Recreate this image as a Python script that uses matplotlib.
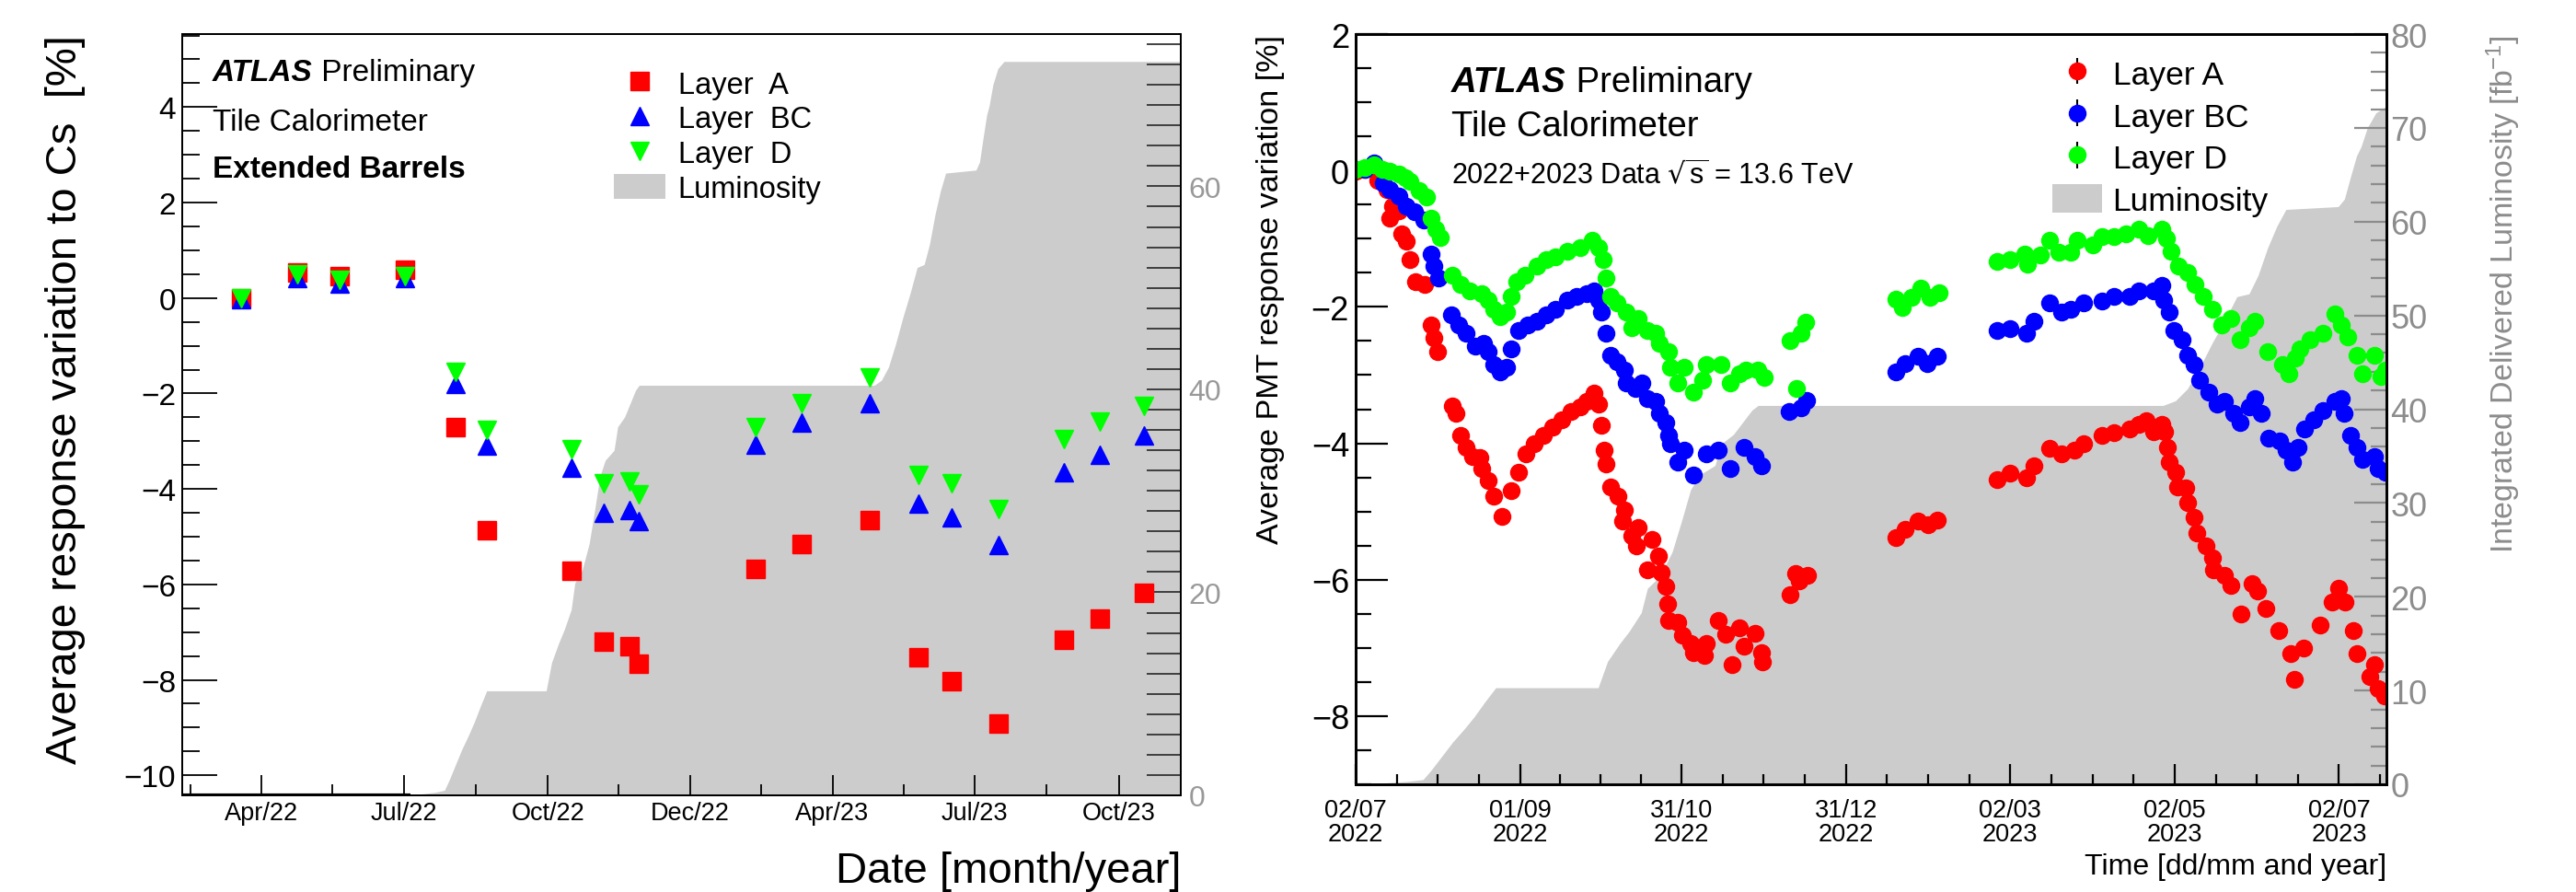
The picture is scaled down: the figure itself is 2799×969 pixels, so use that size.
import matplotlib
matplotlib.use("Agg")
import matplotlib.pyplot as plt
import numpy as np
import pandas as pd
from matplotlib.patches import Patch
from matplotlib.container import ErrorbarContainer
from matplotlib.legend_handler import HandlerErrorbar
from matplotlib.ticker import MultipleLocator, FixedLocator

plt.rcParams["font.family"] = ["Liberation Sans", "DejaVu Sans"]
plt.rcParams["mathtext.default"] = "regular"

DAY0 = pd.Timestamp("2022-01-01")

# ---------------- left panel: Cs scans, extended barrels ----------------
cs_dates = ["2022-03-19", "2022-04-24", "2022-05-21", "2022-07-02", "2022-08-03",
            "2022-08-23", "2022-10-16", "2022-11-06", "2022-11-22", "2022-11-28",
            "2023-02-11", "2023-03-12", "2023-04-25", "2023-05-26", "2023-06-16",
            "2023-07-16", "2023-08-27", "2023-09-19", "2023-10-17"]
cs_layer_a = [0.0, 0.54, 0.45, 0.60, -2.71, -4.86, -5.72, -7.20, -7.29, -7.66,
              -5.68, -5.16, -4.65, -7.52, -8.02, -8.91, -7.16, -6.71, -6.17]
cs_layer_bc = [-0.03, 0.42, 0.30, 0.42, -1.79, -3.10, -3.56, -4.50, -4.44, -4.68,
               -3.07, -2.60, -2.21, -4.30, -4.60, -5.17, -3.66, -3.28, -2.88]
cs_layer_d = [0.0, 0.50, 0.38, 0.45, -1.55, -2.77, -3.16, -3.89, -3.84, -4.12,
              -2.71, -2.20, -1.67, -3.70, -3.88, -4.42, -2.96, -2.59, -2.26]

left_tick_dates = ["2022-04-01", "2022-07-01", "2022-10-01", "2022-12-31",
                   "2023-04-01", "2023-07-01", "2023-10-01"]

# ---------------- right panel: PMT response (days since 2022-01-01) ----------------
days_a = [182.1, 185.5, 190.1, 193.5, 194.6, 195.8, 198.1, 199.2, 200.9, 202.0,
          204.3, 207.7, 210.0, 211.2, 212.3, 218.0, 219.1, 220.8, 223.1, 225.4,
          228.2, 228.8, 231.1, 233.4, 236.2, 239.6, 242.5, 245.3, 248.2, 251.6,
          255.0, 258.4, 261.9, 265.3, 267.6, 270.4, 272.1, 273.2, 274.4, 275.0,
          276.7, 279.5, 281.2, 281.8, 284.6, 286.3, 286.9, 290.3, 292.0, 294.3,
          295.5, 297.2, 297.7, 298.3, 301.7, 303.4, 306.3, 307.4, 311.4, 312.0,
          316.5, 319.4, 321.7, 324.5, 326.2, 330.2, 332.5, 333.0,
          343.3, 345.3, 346.7, 349.6,
          382.6, 386.0, 390.6, 394.6, 398.0,
          420.2, 424.8, 431.0, 433.9, 439.6, 444.1, 448.7, 452.1, 459.0, 463.5,
          469.2, 472.6, 475.5, 478.3, 481.2, 482.3, 483.4, 484.0, 486.3, 487.0,
          490.3, 490.8, 493.1, 494.3, 497.7, 500.0, 500.5, 504.5, 506.8, 510.5,
          514.8, 516.7, 519.8, 524.5, 529.1, 530.6, 533.7, 539.9, 544.5, 547.0,
          549.2, 552.3, 553.8, 558.5, 560.0, 561.6, 564.0]
resp_a = [-0.01, 0.02, -0.14, -0.28, -0.70, -0.52, -0.59, -0.93, -1.04, -1.31,
          -1.63, -1.67, -2.26, -2.46, -2.66, -3.45, -3.56, -3.88, -4.06, -4.19,
          -4.21, -4.37, -4.55, -4.78, -5.07, -4.69, -4.42, -4.15, -4.01, -3.88,
          -3.76, -3.65, -3.54, -3.47, -3.38, -3.27, -3.43, -3.74, -4.10, -4.30,
          -4.64, -4.78, -5.14, -4.98, -5.36, -5.50, -5.23, -5.86, -5.41, -5.65,
          -5.90, -6.10, -6.35, -6.60, -6.62, -6.82, -6.93, -7.07, -7.11, -6.93,
          -6.60, -6.80, -7.25, -6.71, -6.98, -6.78, -7.07, -7.20,
          -6.22, -5.91, -6.02, -5.94,
          -5.38, -5.26, -5.14, -5.19, -5.12,
          -4.53, -4.44, -4.51, -4.33, -4.08, -4.15, -4.10, -4.01, -3.88, -3.85,
          -3.79, -3.72, -3.67, -3.83, -3.72, -3.83, -4.06, -4.28, -4.42, -4.64,
          -4.66, -4.87, -5.09, -5.31, -5.50, -5.68, -5.85, -5.94, -6.08, -6.50,
          -6.06, -6.17, -6.42, -6.75, -7.09, -7.46, -7.00, -6.67, -6.33, -6.13,
          -6.33, -6.75, -7.09, -7.42, -7.25, -7.59, -7.71]

days_bc = [182.1, 185.5, 189.0, 192.4, 194.6, 198.1, 200.9, 203.8, 207.2, 210.0,
           211.2, 212.9, 217.4, 220.3, 223.1, 226.5, 229.4, 231.1, 233.4, 235.7,
           237.9, 239.6, 242.5, 245.9, 249.3, 252.7, 256.2, 260.7, 264.1, 267.6,
           270.4, 272.1, 273.2, 275.0, 276.7, 279.0, 281.8, 282.4, 285.8, 288.1,
           290.3, 293.2, 294.9, 297.2, 298.3, 299.0, 301.7, 304.0, 307.4, 312.0,
           316.5, 321.1, 326.2, 330.2, 332.5,
           343.0, 347.3, 349.4,
           382.6, 386.0, 390.6, 394.0, 398.0,
           420.2, 424.8, 431.0, 433.9, 439.6, 444.1, 447.5, 452.1, 459.0, 463.5,
           469.2, 472.6, 478.3, 481.2, 482.0, 484.0, 485.7, 488.6, 490.8, 493.1,
           495.4, 498.8, 501.7, 504.5, 507.9, 510.2, 513.6, 515.9, 518.2, 521.0,
           525.0, 527.3, 529.6, 531.9, 534.1, 537.5, 541.0, 545.5, 547.8, 548.9,
           551.2, 553.5, 555.8, 560.3, 561.5, 564.3]
resp_bc = [0.02, 0.02, 0.11, -0.19, -0.28, -0.37, -0.52, -0.61, -0.73, -1.22,
           -1.40, -1.58, -2.12, -2.26, -2.39, -2.57, -2.53, -2.66, -2.84, -2.95,
           -2.89, -2.62, -2.35, -2.26, -2.21, -2.12, -2.03, -1.90, -1.85, -1.81,
           -1.76, -1.90, -2.08, -2.39, -2.71, -2.80, -2.93, -3.11, -3.20, -3.11,
           -3.34, -3.38, -3.56, -3.70, -3.88, -4.01, -4.28, -4.10, -4.46, -4.15,
           -4.10, -4.37, -4.06, -4.19, -4.33,
           -3.53, -3.48, -3.37,
           -2.95, -2.83, -2.73, -2.83, -2.73,
           -2.35, -2.32, -2.39, -2.21, -1.94, -2.08, -2.03, -1.94, -1.92, -1.85,
           -1.85, -1.76, -1.76, -1.69, -1.90, -2.08, -2.35, -2.48, -2.71, -2.84,
           -3.07, -3.25, -3.43, -3.38, -3.56, -3.70, -3.47, -3.34, -3.56, -3.92,
           -3.97, -4.10, -4.28, -4.06, -3.79, -3.65, -3.52, -3.38, -3.34, -3.56,
           -3.88, -4.06, -4.24, -4.19, -4.37, -4.42]

days_d = [182.1, 185.5, 189.0, 191.8, 194.6, 198.1, 200.3, 202.0, 205.5, 208.3,
          210.0, 211.7, 213.4, 218.0, 220.8, 224.3, 228.8, 231.1, 233.4, 235.7,
          237.9, 239.6, 241.9, 244.8, 249.3, 252.7, 256.2, 260.7, 265.3, 269.8,
          272.1, 273.8, 275.0, 276.7, 279.0, 282.4, 284.6, 286.9, 290.3, 293.2,
          294.9, 298.3, 299.0, 301.7, 304.0, 307.4, 310.8, 312.0, 317.7, 321.1,
          324.5, 326.8, 331.4, 333.6,
          343.3, 345.6, 347.3, 349.2,
          382.6, 384.9, 388.3, 391.7, 395.2, 398.6,
          420.2, 424.8, 430.5, 431.5, 436.2, 439.6, 443.0, 447.5, 449.8, 455.5,
          459.0, 463.5, 468.0, 472.6, 476.0, 481.2, 482.9, 484.6, 487.4, 490.8,
          493.7, 496.5, 500.0, 503.4, 506.8, 510.2, 513.6, 515.9, 520.5, 526.1,
          528.4, 530.7, 532.4, 536.4, 540.9, 545.5, 547.8, 550.1, 553.5, 555.8,
          560.3, 562.6, 564.4]
resp_d = [0.02, 0.04, 0.08, 0.02, -0.01, -0.05, -0.10, -0.16, -0.30, -0.39,
          -0.70, -0.86, -0.98, -1.54, -1.67, -1.76, -1.81, -1.90, -2.03, -2.14,
          -2.08, -1.85, -1.63, -1.54, -1.40, -1.31, -1.27, -1.18, -1.13, -1.02,
          -1.13, -1.31, -1.58, -1.85, -1.94, -2.08, -2.30, -2.17, -2.35, -2.39,
          -2.53, -2.66, -2.89, -3.11, -2.89, -3.25, -3.07, -2.84, -2.84, -3.11,
          -2.98, -2.93, -2.93, -3.04,
          -2.49, -3.19, -2.39, -2.23,
          -1.89, -2.01, -1.86, -1.72, -1.86, -1.79,
          -1.33, -1.31, -1.22, -1.38, -1.24, -1.02, -1.20, -1.20, -1.02, -1.09,
          -0.97, -0.97, -0.93, -0.86, -0.95, -0.86, -0.99, -1.18, -1.40, -1.49,
          -1.67, -1.85, -2.03, -2.26, -2.17, -2.48, -2.30, -2.21, -2.66, -2.84,
          -2.98, -2.75, -2.62, -2.48, -2.39, -2.10, -2.26, -2.44, -2.71, -2.98,
          -2.71, -3.02, -2.93]

right_tick_dates = ["2022-07-02", "2022-09-01", "2022-10-31", "2022-12-31",
                    "2023-03-02", "2023-05-02", "2023-07-02"]

# integrated delivered luminosity [fb^-1], shared by both panels
lumi_days = [39, 185, 201, 207, 210, 214, 218, 222, 226, 230, 234, 272, 275.5,
             280, 283.5, 288, 290.3, 295, 299.5, 303, 306.3, 309.7, 315.4, 317.7,
             322.2, 329.1, 331.4, 481.7, 486.3, 490.8, 495.4, 500, 504.5, 509.1,
             513.6, 517, 520.5, 523.9, 527.3, 546.7, 549, 551.2, 553.5, 555.2,
             557.5, 560.7, 564.6, 678]
lumi_vals = [0, 0, 0.3, 0.5, 1.5, 3.0, 4.5, 5.8, 7.2, 8.8, 10.3, 10.3, 13.1,
             15.0, 16.3, 18.3, 20.9, 22.2, 24.8, 28.1, 31.4, 33.0, 34.0, 36.3,
             37.3, 39.9, 40.4, 40.4, 40.9, 42.2, 44.5, 47.1, 49.4, 52.0,
             52.3, 54.3, 57.2, 59.5, 61.3, 61.6, 62.4, 64.7, 67.0, 68.0,
             70.0, 71.6, 72.3, 72.3]

RED, BLUE, GREEN = "#ff0000", "#0000ff", "#00ff00"
GRAY = "#cccccc"
AXGRAY = "#8c8c8c"

W, H = 2799, 970
fig = plt.figure(figsize=(W / 100, H / 100), dpi=100)


def fx(px):
    return px / W


def fy(py):
    return 1 - py / H


def px_axes(left, top, right, bottom):
    return fig.add_axes([fx(left), fy(bottom), (right - left) / W, (bottom - top) / H])


def to_days(dates):
    return np.array([(pd.Timestamp(d) - DAY0).days for d in dates], dtype=float)


def atlas_label(x, y, size):
    # bold italic "ATLAS" followed by plain "Preliminary"
    t = fig.text(fx(x), fy(y), "ATLAS", fontsize=size, fontweight="bold",
                 fontstyle="italic", va="baseline")
    plt.annotate(" Preliminary", xy=(1, 0), xycoords=t, fontsize=size,
                 va="bottom", ha="left", annotation_clip=False)


lumi_d = np.array(lumi_days)
lumi_v = np.array(lumi_vals)

# =============================== left panel ===============================
ax = px_axes(198, 38, 1283, 865)
lum = ax.twinx()
ax.set_zorder(lum.get_zorder() + 1)
ax.patch.set_visible(False)

lum.fill_between(lumi_d, lumi_v, color=GRAY, lw=0)
zero = lumi_v == 0
lum.plot(lumi_d[zero], lumi_v[zero], color="black", lw=3.0, solid_capstyle="butt")
lum.set_ylim(0, 75)
lum.yaxis.set_major_locator(FixedLocator([0, 20, 40, 60]))
lum.yaxis.set_minor_locator(MultipleLocator(2))
lum.tick_params(axis="y", which="both", direction="in", length=26.5, width=1.3,
                color="#333333", labelsize=23, labelcolor="#999999", pad=6)

x_cs = to_days(cs_dates)
h_a, = ax.plot(x_cs, cs_layer_a, "s", ms=15, color=RED, mec=RED, label="Layer  A")
h_bc, = ax.plot(x_cs, cs_layer_bc, "^", ms=14, color=BLUE, mec=BLUE, label="Layer  BC")
h_d, = ax.plot(x_cs, cs_layer_d, "v", ms=15, color=GREEN, mec=GREEN, label="Layer  D")

ax.set_xlim(39.4, 677.6)
ax.set_ylim(-10.42, 5.53)
lt = to_days(left_tick_dates)
ax.set_xticks(lt)
ax.set_xticklabels([pd.Timestamp(d).strftime("%b/%y") for d in left_tick_dates])
ax.set_xticks(np.concatenate([[lt[0] - (lt[1] - lt[0]) / 2], (lt[:-1] + lt[1:]) / 2]),
              minor=True)
ax.yaxis.set_major_locator(MultipleLocator(2))
ax.yaxis.set_minor_locator(MultipleLocator(0.5))
ax.tick_params(axis="both", which="both", direction="in", top=False, right=False, width=1.3)
ax.tick_params(axis="y", which="major", length=27, labelsize=24, pad=5)
ax.tick_params(axis="y", which="minor", length=14)
ax.tick_params(axis="x", which="major", length=16, labelsize=19.5, pad=4)
ax.tick_params(axis="x", which="minor", length=8.5)
for a in (ax, lum):
    for s in a.spines.values():
        s.set_linewidth(1.4)

fig.text(fx(71), fy(38), "Average response variation to Cs  [%]", fontsize=34,
         rotation=90, ha="center", va="top")
fig.text(fx(1283), fy(947), "Date [month/year]", fontsize=34, ha="right", va="center")

atlas_label(231, 88, 24)
fig.text(fx(231), fy(142), "Tile Calorimeter", fontsize=24, va="baseline")
fig.text(fx(231), fy(193), "Extended Barrels", fontsize=24, fontweight="bold",
         va="baseline")

ax.legend(handles=[h_a, h_bc, h_d, Patch(facecolor=GRAY, edgecolor="none",
                                         label="Luminosity")],
          loc="upper left", bbox_to_anchor=(fx(667), fy(77)),
          bbox_transform=fig.transFigure, frameon=False, borderpad=0,
          borderaxespad=0, fontsize=23.5, handlelength=1.72, handleheight=0.9,
          handletextpad=0.41, labelspacing=0.18)

# =============================== right panel ===============================
ax2 = px_axes(1473, 38, 2593, 853)
lum2 = ax2.twinx()
ax2.set_zorder(lum2.get_zorder() + 1)
ax2.patch.set_visible(False)

lum2.fill_between(lumi_d, lumi_v, color=GRAY, lw=0)
lum2.set_ylim(0, 80)
lum2.yaxis.set_major_locator(MultipleLocator(10))
lum2.yaxis.set_minor_locator(MultipleLocator(2))
lum2.tick_params(axis="y", which="both", direction="in", width=1.6, color=AXGRAY,
                 labelcolor=AXGRAY, labelsize=26, pad=3)
lum2.tick_params(axis="y", which="major", length=25)
lum2.tick_params(axis="y", which="minor", length=12)

for days, resp, col in ((days_a, resp_a, RED), (days_bc, resp_bc, BLUE),
                        (days_d, resp_d, GREEN)):
    ax2.plot(days, resp, "o", ms=13, color=col, mec=col)

ax2.set_xlim(182, 564.6)
ax2.set_ylim(-9, 2)
rt = to_days(right_tick_dates)
ax2.set_xticks(rt)
ax2.set_xticklabels([pd.Timestamp(d).strftime("%d/%m\n%Y") for d in right_tick_dates],
                    linespacing=1.0)
quarter = np.diff(rt) / 4
minor_rt = [rt[i] + k * quarter[i] for i in range(len(quarter)) for k in (1, 2, 3)]
minor_rt.append(rt[-1] + quarter[-1])
ax2.set_xticks(minor_rt, minor=True)
ax2.yaxis.set_major_locator(MultipleLocator(2))
ax2.yaxis.set_minor_locator(MultipleLocator(0.5))
ax2.tick_params(axis="both", which="both", direction="in", top=False, right=False, width=1.6)
ax2.tick_params(axis="y", which="major", length=25, labelsize=26, pad=5)
ax2.tick_params(axis="y", which="minor", length=12)
ax2.tick_params(axis="x", which="major", length=16, labelsize=19.5, pad=11)
ax2.tick_params(axis="x", which="minor", length=8)
for a in (ax2, lum2):
    for s in a.spines.values():
        s.set_linewidth(2.0)

fig.text(fx(1381), fy(38), "Average PMT response variation [%]", fontsize=24.5,
         rotation=90, ha="center", va="top")
fig.text(fx(2720), fy(38), "Integrated Delivered Luminosity [fb$^{-1}$]",
         fontsize=24.5, rotation=90, ha="center", va="top", color=AXGRAY)
fig.text(fx(2593), fy(942), "Time [dd/mm and year]", fontsize=23, ha="right",
         va="center")

atlas_label(1577, 100, 27.5)
fig.text(fx(1577), fy(148), "Tile Calorimeter", fontsize=27.5, va="baseline")
fig.text(fx(1577), fy(200), r"2022+2023 Data $\sqrt{s}$ = 13.6 TeV", fontsize=22,
         va="baseline")

leg_handles = []
for col, lab in ((RED, "Layer A"), (BLUE, "Layer BC"), (GREEN, "Layer D")):
    leg_handles.append(ax2.errorbar([], [], yerr=[], fmt="o", ms=13, color=col,
                                    mec=col, ecolor="black", elinewidth=1.5,
                                    capsize=3.5, capthick=1.5, label=lab))
leg_handles.append(Patch(facecolor=GRAY, edgecolor="none", label="Luminosity"))
ax2.legend(handles=leg_handles, loc="upper left", bbox_to_anchor=(fx(2230), fy(64)),
           bbox_transform=fig.transFigure, frameon=False, borderpad=0,
           borderaxespad=0, fontsize=25.5, handlelength=1.53, handleheight=0.98,
           handletextpad=0.32, labelspacing=0.31,
           handler_map={ErrorbarContainer: HandlerErrorbar(yerr_size=0.4)})

fig.savefig("out.png", dpi=100)
